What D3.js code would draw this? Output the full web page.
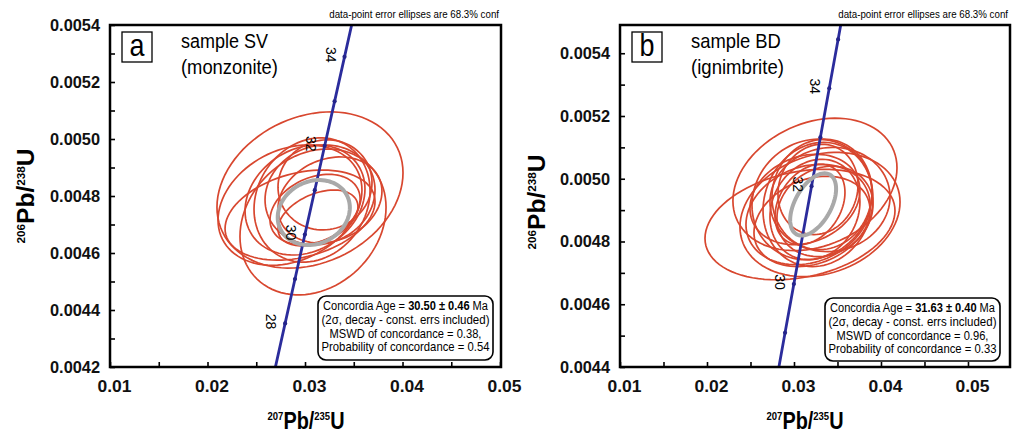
<!DOCTYPE html>
<html>
<head>
<meta charset="utf-8">
<script src="https://cdn.jsdelivr.net/npm/d3@7"></script>
<style>
  body { margin: 0; background: #fff; }
  svg { display: block; font-family: "Liberation Sans", Arial, sans-serif; }
</style>
</head>
<body>
<div id="chart"></div>
<script>
// concordia curve, one point per Ma
var concAge = [26, 27, 28, 29, 30, 31, 32, 33, 34, 35, 36];
var concX = [0.0259367, 0.0269476, 0.0279595, 0.0289724, 0.029986, 0.0310011, 0.032017, 0.0330339, 0.034052, 0.0350707, 0.0360906];
var concY = [0.0040414, 0.0041972, 0.0043529, 0.0045088, 0.0046646, 0.0048204, 0.0049763, 0.0051322, 0.0052882, 0.0054441, 0.0055996];
var concLabels = [28, 30, 32, 34];

var xTicks = [0.01, 0.02, 0.03, 0.04, 0.05];
var yTicksA = [0.0042, 0.0044, 0.0046, 0.0048, 0.0050, 0.0052, 0.0054];
var yTicksB = [0.0044, 0.0046, 0.0048, 0.0050, 0.0052, 0.0054];

// sample SV error ellipses (center, half widths, correlation)
var ellAx   = [0.03051, 0.03082, 0.02846, 0.03072, 0.03154, 0.02949, 0.03256, 0.03103, 0.03133, 0.0300, 0.03205];
var ellAy   = [0.004821, 0.004709, 0.004768, 0.004786, 0.004804, 0.004733, 0.004786, 0.004753, 0.004723, 0.004786, 0.004839];
var ellAsx  = [0.00954, 0.00749, 0.00738, 0.00595, 0.00564, 0.00769, 0.00533, 0.00462, 0.0041, 0.00615, 0.00482];
var ellAsy  = [0.000274, 0.000256, 0.000211, 0.000218, 0.000175, 0.000158, 0.000151, 0.000123, 0.000098, 0.000193, 0.000158];
var ellArho = [0.22, 0.2, 0.25, 0.15, 0.1, 0.3, 0.2, 0.3, 0.4, 0.2, 0.05];

// sample BD error ellipses
var ellBx   = [0.03241, 0.03069, 0.03299, 0.03207, 0.03276, 0.03161, 0.03322, 0.03241, 0.03126, 0.03356, 0.03207, 0.03276, 0.03184, 0.03414];
var ellBy   = [0.004982, 0.004854, 0.004886, 0.004934, 0.004918, 0.004886, 0.00495, 0.004902, 0.004934, 0.004896, 0.004864, 0.004966, 0.004918, 0.004934];
var ellBsx  = [0.00943, 0.01092, 0.0092, 0.0069, 0.00632, 0.00713, 0.00575, 0.00517, 0.00632, 0.00552, 0.00667, 0.0046, 0.00402, 0.0069];
var ellBsy  = [0.000211, 0.000176, 0.000198, 0.000192, 0.000198, 0.00016, 0.000176, 0.00016, 0.000144, 0.000144, 0.000144, 0.000144, 0.000128, 0.000166];
var ellBrho = [0.25, 0.25, 0.2, 0.1, 0.1, 0.2, 0.05, 0.15, 0.2, 0.15, 0.25, 0.1, 0.3, 0.05];

// concordia age ellipses
var ageA = { x: 0.0309, y: 0.004742, sx: 0.0037, sy: 0.000114, rho: 0.15 };
var ageB = { x: 0.0322, y: 0.004918, sx: 0.00264, sy: 0.0000992, rho: 0.5 };

var legendA = ["Concordia Age = ", "30.50 \u00b1 0.46", " Ma", "(2\u03c3, decay - const. errs included)", "MSWD of concordance = 0.38,", "Probability of concordance = 0.54"];
var legendB = ["Concordia Age = ", "31.63 \u00b1 0.40", " Ma", "(2\u03c3, decay - const. errs included)", "MSWD of concordance = 0.96,", "Probability of concordance = 0.33"];

var W = 1013, H = 437;
var svg = d3.select("#chart").append("svg").attr("width", W).attr("height", H);

function ellipsePts(cx, cy, sx, sy, rho) {
  var pts = [];
  var k = Math.sqrt(1 - rho * rho);
  for (var i = 0; i < 90; i++) {
    var t = i / 90 * 2 * Math.PI;
    pts.push([cx + sx * Math.cos(t), cy + sy * (rho * Math.cos(t) + k * Math.sin(t))]);
  }
  return pts;
}

// squeeze a text horizontally to a target width (the original uses a narrow font)
function squeeze(t, x, y, width, rot) {
  var len = t.node().getComputedTextLength();
  t.attr("transform", "translate(" + x + "," + y + ")" + (rot ? " rotate(" + rot + ")" : "") +
    " scale(" + (width / len) + ",1)");
  return t;
}

function axisTitle(g, tx, ty, rot, a, b, len) {
  var t = g.append("text")
    .attr("text-anchor", "middle")
    .attr("font-weight", "bold");
  t.append("tspan").attr("font-size", 11).attr("dy", -9).text(a);
  t.append("tspan").attr("font-size", 23).attr("dy", 9).text("Pb/");
  t.append("tspan").attr("font-size", 11).attr("dy", -9).text(b);
  t.append("tspan").attr("font-size", 23).attr("dy", 9).text("U");
  squeeze(t, tx, ty, len, rot);
}

function drawPanel(p) {
  var g = svg.append("g");
  var x = d3.scaleLinear().domain(p.xDomain).range([p.left, p.right]);
  var y = d3.scaleLinear().domain(p.yDomain).range([p.bottom, p.top]);

  var clipId = "clip" + p.letter;
  svg.append("clipPath").attr("id", clipId)
    .append("rect").attr("x", p.left).attr("y", p.top)
    .attr("width", p.right - p.left).attr("height", p.bottom - p.top);

  var plot = g.append("g").attr("clip-path", "url(#" + clipId + ")");

  var line = d3.line().x(function(d) { return x(d[0]); }).y(function(d) { return y(d[1]); });
  var closed = d3.line().x(function(d) { return x(d[0]); }).y(function(d) { return y(d[1]); }).curve(d3.curveLinearClosed);

  // data-point ellipses
  for (var i = 0; i < p.ex.length; i++) {
    plot.append("path")
      .attr("d", closed(ellipsePts(p.ex[i], p.ey[i], p.esx[i], p.esy[i], p.erho[i])))
      .attr("fill", "none")
      .attr("stroke", "#d8472f")
      .attr("stroke-width", 1.7);
  }

  // concordia
  var conc = concAge.map(function(a, i) { return [concX[i], concY[i]]; });
  plot.append("path").attr("d", line(conc))
    .attr("fill", "none").attr("stroke", "#2b2c9c").attr("stroke-width", 2.8);
  plot.selectAll("circle.age").data(conc).enter().append("circle")
    .attr("class", "age")
    .attr("cx", function(d) { return x(d[0]); })
    .attr("cy", function(d) { return y(d[1]); })
    .attr("r", 2.1)
    .attr("fill", "#24248a");

  // concordia age ellipse
  var ag = p.age;
  plot.append("path")
    .attr("d", closed(ellipsePts(ag.x, ag.y, ag.sx, ag.sy, ag.rho)))
    .attr("fill", "none").attr("stroke", "#a9a9a9").attr("stroke-width", 4);

  // age labels along concordia
  concLabels.forEach(function(a) {
    var i = concAge.indexOf(a);
    plot.append("text")
      .attr("transform", "translate(" + (x(concX[i]) - 14) + "," + (y(concY[i]) - 2) + ") rotate(90)")
      .attr("text-anchor", "middle")
      .attr("dy", "0.35em")
      .attr("font-size", 14)
      .text(a);
  });

  // inward minor ticks
  var yMinor = d3.range(Math.round(p.yDomain[0] * 10000), Math.floor(p.yDomain[1] * 10000 + 1e-6) + 1).map(function(v) { return v / 10000; });
  var xMinor = d3.range(2, Math.floor(p.xDomain[1] * 200 + 1e-6) + 1).map(function(v) { return v / 200; });

  g.append("g").attr("transform", "translate(" + p.left + ",0)")
    .call(d3.axisLeft(y).tickValues(yMinor).tickSize(-5).tickFormat(""))
    .call(function(s) { s.select(".domain").remove(); s.selectAll("line").attr("stroke-width", 1.6); });
  g.append("g").attr("transform", "translate(0," + p.bottom + ")")
    .call(d3.axisBottom(x).tickValues(xMinor).tickSize(-5).tickFormat(""))
    .call(function(s) { s.select(".domain").remove(); s.selectAll("line").attr("stroke-width", 1.6); });

  // tick labels
  g.append("g").attr("transform", "translate(" + p.left + ",0)")
    .call(d3.axisLeft(y).tickValues(p.yTicks).tickSize(0).tickPadding(10).tickFormat(d3.format(".4f")))
    .call(function(s) {
      s.select(".domain").remove();
      s.selectAll("text").attr("font-size", 17).attr("font-weight", "bold").attr("fill", "#111")
        .attr("font-family", "'Liberation Sans', Arial, sans-serif")
        .attr("textLength", 50).attr("lengthAdjust", "spacingAndGlyphs");
    });
  g.append("g").attr("transform", "translate(0," + p.bottom + ")")
    .call(d3.axisBottom(x).tickValues(xTicks).tickSize(0).tickPadding(13).tickFormat(d3.format(".2f")))
    .call(function(s) {
      s.select(".domain").remove();
      s.selectAll("text").attr("font-size", 17).attr("font-weight", "bold").attr("fill", "#111")
        .attr("font-family", "'Liberation Sans', Arial, sans-serif")
        .attr("dx", 4)
        .attr("textLength", 34).attr("lengthAdjust", "spacingAndGlyphs");
    });

  // frame
  g.append("rect")
    .attr("x", p.left).attr("y", p.top)
    .attr("width", p.right - p.left).attr("height", p.bottom - p.top)
    .attr("fill", "none").attr("stroke", "#000").attr("stroke-width", 2.5);

  // panel letter and sample name
  g.append("rect").attr("x", p.left + 12).attr("y", 32).attr("width", 30).attr("height", 30)
    .attr("fill", "#fff").attr("stroke", "#000").attr("stroke-width", 1.3);
  squeeze(g.append("text").attr("text-anchor", "middle").attr("font-size", 31).text(p.letter),
    p.left + 27, 56, 15);
  squeeze(g.append("text").attr("font-size", 20).text(p.name[0]), p.left + 71, 48, p.nameLen[0]);
  squeeze(g.append("text").attr("font-size", 20).text(p.name[1]), p.left + 71, 74, p.nameLen[1]);

  // note above frame
  squeeze(g.append("text").attr("text-anchor", "end").attr("font-size", 11)
    .text("data-point error ellipses are 68.3% conf"), p.right - 2, 18, 170);

  // result box
  var bx = p.box[0], by = p.box[1], bw = p.box[2], bh = p.box[3];
  g.append("rect").attr("x", bx).attr("y", by).attr("width", bw).attr("height", bh)
    .attr("rx", 8).attr("fill", "#fff").attr("stroke", "#000").attr("stroke-width", 1.6);
  var cx = bx + bw / 2;
  var l1 = g.append("text").attr("text-anchor", "middle").attr("font-size", 12.5);
  l1.append("tspan").text(p.legend[0]);
  l1.append("tspan").attr("font-weight", "bold").text(p.legend[1]);
  l1.append("tspan").text(p.legend[2]);
  squeeze(l1, cx, by + 14, 165);
  var lens = [168, 152, 168];
  for (var j = 0; j < 3; j++) {
    squeeze(g.append("text").attr("text-anchor", "middle").attr("font-size", 12.5).text(p.legend[3 + j]),
      cx, by + 28 + j * 13.5, lens[j]);
  }

  axisTitle(g, p.xTitle[0], p.xTitle[1], 0, "207", "235", 77);
  axisTitle(g, p.yTitle[0], p.yTitle[1], -90, "206", "238", 95);
}

drawPanel({
  letter: "a",
  left: 110, right: 501, top: 25, bottom: 367,
  xDomain: [0.01, 0.0501], yDomain: [0.0042, 0.0054],
  yTicks: yTicksA,
  ex: ellAx, ey: ellAy, esx: ellAsx, esy: ellAsy, erho: ellArho,
  age: ageA,
  name: ["sample SV", "(monzonite)"], nameLen: [87, 97],
  legend: legendA,
  box: [318, 296, 175, 64],
  xTitle: [306, 429], yTitle: [34, 196]
});

drawPanel({
  letter: "b",
  left: 620, right: 1010, top: 25, bottom: 367,
  xDomain: [0.01, 0.05483], yDomain: [0.0044, 0.00549],
  yTicks: yTicksB,
  ex: ellBx, ey: ellBy, esx: ellBsx, esy: ellBsy, erho: ellBrho,
  age: ageB,
  name: ["sample BD", "(ignimbrite)"], nameLen: [90, 93],
  legend: legendB,
  box: [825, 298, 175, 63],
  xTitle: [805, 429], yTitle: [545, 202]
});
</script>
</body>
</html>
